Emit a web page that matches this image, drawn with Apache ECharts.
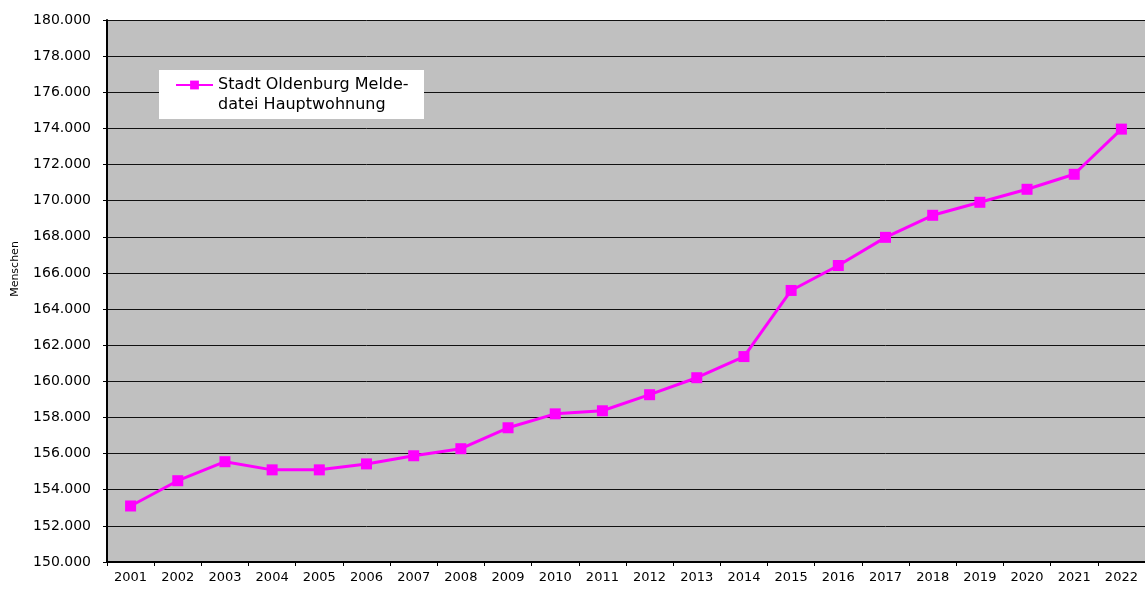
<!DOCTYPE html>
<html>
<head>
<meta charset="utf-8">
<script src="https://cdn.jsdelivr.net/npm/echarts@6/dist/echarts.min.js"></script>
<style>
  html, body { margin: 0; padding: 0; background: #fff; }
  #chart { width: 1145px; height: 589px; }
</style>
</head>
<body>
<div id="chart"></div>
<script>
// Einwohner der Stadt Oldenburg (Melderegister, Hauptwohnung), jeweils Jahresende
const years = ['2001','2002','2003','2004','2005','2006','2007','2008','2009','2010','2011',
               '2012','2013','2014','2015','2016','2017','2018','2019','2020','2021','2022'];
const residents = [153100, 154500, 155550, 155100, 155100, 155430, 155880, 156270, 157430, 158200, 158370,
                   159260, 160200, 161370, 165030, 166410, 167970, 169190, 169910, 170630, 171460, 173960];
const seriesName = 'Stadt Oldenburg Melde-\ndatei Hauptwohnung';
const yMin = 150000, yMax = 180000, yStep = 2000;

const fontFamily = '"DejaVu Sans", sans-serif';
const fmt = v => String(v).replace(/\B(?=(\d{3})+(?!\d))/g, '.');

const chart = echarts.init(document.getElementById('chart'), null, { renderer: 'canvas' });
chart.setOption({
  animation: false,
  backgroundColor: '#ffffff',
  textStyle: { fontFamily },
  grid: {
    left: 107, right: 0, top: 20, bottom: 27,
    show: true, backgroundColor: '#c0c0c0', borderWidth: 0
  },
  // white box behind the legend
  graphic: [{
    type: 'rect', left: 159, top: 70, z: 5,
    shape: { width: 265, height: 49 },
    style: { fill: '#ffffff' }
  }],
  legend: {
    left: 175, top: 55, z: 10,
    padding: 0,
    itemWidth: 37, itemHeight: 11, itemGap: 4,
    // leading empty line keeps the icon level with the first text line
    formatter: name => '\n' + name,
    textStyle: { fontSize: 16, color: '#000', lineHeight: 20 },
    data: [seriesName]
  },
  xAxis: {
    type: 'category',
    data: years,
    boundaryGap: true,
    axisLine: { lineStyle: { color: '#000', width: 2 } },
    axisTick: { show: true, length: 4, lineStyle: { color: '#000' } },
    axisLabel: { fontSize: 13, color: '#000', margin: 9, interval: 0 },
    splitLine: { show: false }
  },
  yAxis: {
    type: 'value',
    min: yMin, max: yMax, interval: yStep,
    name: 'Menschen',
    nameLocation: 'middle',
    nameGap: 86,
    nameTextStyle: { fontSize: 11, color: '#000', padding: [0, 0, 0, 44] },
    axisLine: { show: true, lineStyle: { color: '#000', width: 2 } },
    axisTick: { show: true, length: 4, lineStyle: { color: '#000' } },
    axisLabel: { fontSize: 14, color: '#000', margin: 16, formatter: fmt },
    splitLine: { show: true, lineStyle: { color: '#111', width: 1 } }
  },
  series: [{
    name: seriesName,
    type: 'line',
    data: residents,
    symbol: 'rect',
    symbolSize: 11,
    lineStyle: { color: '#ff00ff', width: 3 },
    itemStyle: { color: '#ff00ff' },
    z: 3
  }]
});
</script>
</body>
</html>
